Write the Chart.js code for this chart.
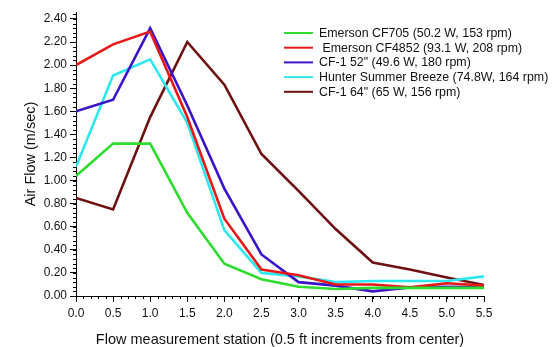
<!DOCTYPE html>
<html>
<head>
<meta charset="utf-8">
<script src="https://cdn.jsdelivr.net/npm/chart.js@4/dist/chart.umd.min.js"></script>
<style>
  html, body { margin: 0; padding: 0; background: #fff; }
  #wrap { width: 556px; height: 347px; }
</style>
</head>
<body>
<div id="wrap"><canvas id="flowChart" width="556" height="347"></canvas></div>
<script>
// stations (ft from center, 0.5 ft steps)
const stations = [0, 0.5, 1.0, 1.5, 2.0, 2.5, 3.0, 3.5, 4.0, 4.5, 5.0, 5.5];

// air flow readings, m/sec
const emersonCF705  = [1.04, 1.32, 1.32, 0.72, 0.28, 0.145, 0.08, 0.06, 0.07, 0.07, 0.07, 0.07];
const emersonCF4852 = [2.00, 2.18, 2.29, 1.55, 0.67, 0.23, 0.18, 0.10, 0.10, 0.075, 0.11, 0.09];
const cf1_52        = [1.60, 1.70, 2.32, 1.65, 0.93, 0.36, 0.12, 0.09, 0.04, 0.075, 0.08, 0.075];
const hunterSummer  = [1.12, 1.91, 2.05, 1.50, 0.57, 0.20, 0.17, 0.12, 0.13, 0.13, 0.13, 0.17];
const cf1_64        = [0.85, 0.75, 1.55, 2.20, 1.83, 1.23, 0.91, 0.58, 0.29, 0.23, 0.16, 0.095];

// axis tick labels
const xTickValues = [0, 0.5, 1.0, 1.5, 2.0, 2.5, 3.0, 3.5, 4.0, 4.5, 5.0, 5.5];
const yTickValues = [0, 0.2, 0.4, 0.6, 0.8, 1.0, 1.2, 1.4, 1.6, 1.8, 2.0, 2.2, 2.4];

const seriesLabels = [
    'Emerson CF705 (50.2 W, 153 rpm)',
    ' Emerson CF4852 (93.1 W, 208 rpm)',
    'CF-1 52" (49.6 W, 180 rpm)',
    'Hunter Summer Breeze (74.8W, 164 rpm)',
    'CF-1 64" (65 W, 156 rpm)'
];
const seriesColors = ['#2ddc2d', '#e81818', '#3a14c8', '#2ee8f0', '#6e1010'];
const seriesData = [emersonCF705, emersonCF4852, cf1_52, hunterSummer, cf1_64];

const FONT = '"Liberation Sans", Arial, sans-serif';

// small ticks between the labelled ones
const minorTicks = {
    id: 'minorTicks',
    afterDraw(chart) {
        const ctx = chart.ctx;
        const x = chart.scales.x, y = chart.scales.y;
        ctx.save();
        ctx.strokeStyle = '#000';
        ctx.lineWidth = 1;
        ctx.beginPath();
        for (let v = 0; v <= 5.5001; v += 0.1) {
            const px = Math.round(x.getPixelForValue(v)) + 0.5;
            ctx.moveTo(px, x.top);
            ctx.lineTo(px, x.top + 3);
        }
        for (let v = 0; v <= 2.46; v += 0.04) {
            const py = Math.round(y.getPixelForValue(v)) + 0.5;
            ctx.moveTo(y.right, py);
            ctx.lineTo(y.right - 3, py);
        }
        ctx.stroke();
        ctx.restore();
    }
};

// legend block to the upper right, partly outside the plot
const sideLegend = {
    id: 'sideLegend',
    afterDraw(chart) {
        const ctx = chart.ctx;
        const left = 284, top = 33, rowH = 14.7;
        ctx.save();
        ctx.font = '12.4px ' + FONT;
        ctx.textBaseline = 'middle';
        chart.data.datasets.forEach((ds, i) => {
            const yy = top + i * rowH;
            ctx.strokeStyle = ds.borderColor;
            ctx.lineWidth = 2;
            ctx.beginPath();
            ctx.moveTo(left, yy);
            ctx.lineTo(left + 29, yy);
            ctx.stroke();
            ctx.fillStyle = '#111';
            ctx.fillText(ds.label, left + 35, yy + 0.5);
        });
        ctx.restore();
    }
};

const datasets = seriesData.map((vals, i) => ({
    label: seriesLabels[i],
    data: stations.map((s, j) => ({ x: s, y: vals[j] })),
    borderColor: seriesColors[i],
    backgroundColor: seriesColors[i],
    borderWidth: 2.6,
    pointRadius: 0,
    tension: 0,
    fill: false
}));

new Chart(document.getElementById('flowChart'), {
    type: 'line',
    data: { datasets: datasets },
    options: {
        responsive: false,
        animation: false,
        layout: { padding: { top: 12, right: 72, left: 22, bottom: 0 } },
        plugins: {
            legend: { display: false },
            tooltip: { enabled: false }
        },
        scales: {
            x: {
                type: 'linear',
                min: 0,
                max: 5.5,
                afterBuildTicks: s => { s.ticks = xTickValues.map(v => ({ value: v })); },
                afterFit: s => { s.height = 51; },
                grid: { drawOnChartArea: false, tickLength: 6, color: '#000' },
                border: { color: '#000', width: 1 },
                ticks: {
                    color: '#111',
                    padding: 4,
                    font: { family: FONT, size: 12 },
                    maxRotation: 0,
                    autoSkip: false,
                    callback: v => v.toFixed(1)
                },
                title: {
                    display: true,
                    text: 'Flow measurement station (0.5 ft increments from center)',
                    color: '#111',
                    font: { family: FONT, size: 14.5, lineHeight: 1.0 },
                    padding: { top: 0, bottom: 0 }
                }
            },
            y: {
                min: 0,
                max: 2.46,
                afterBuildTicks: s => { s.ticks = yTickValues.map(v => ({ value: v })); },
                afterFit: s => { s.width = 54; },
                grid: { drawOnChartArea: false, tickLength: 6, color: '#000' },
                border: { color: '#000', width: 1 },
                ticks: {
                    color: '#111',
                    padding: 3,
                    autoSkip: false,
                    font: { family: FONT, size: 12 },
                    callback: v => v.toFixed(2)
                },
                title: {
                    display: true,
                    text: 'Air Flow (m/sec)',
                    color: '#111',
                    font: { family: FONT, size: 14.5 },
                    padding: { top: 0, bottom: 0 }
                }
            }
        }
    },
    plugins: [minorTicks, sideLegend]
});
</script>
</body>
</html>
